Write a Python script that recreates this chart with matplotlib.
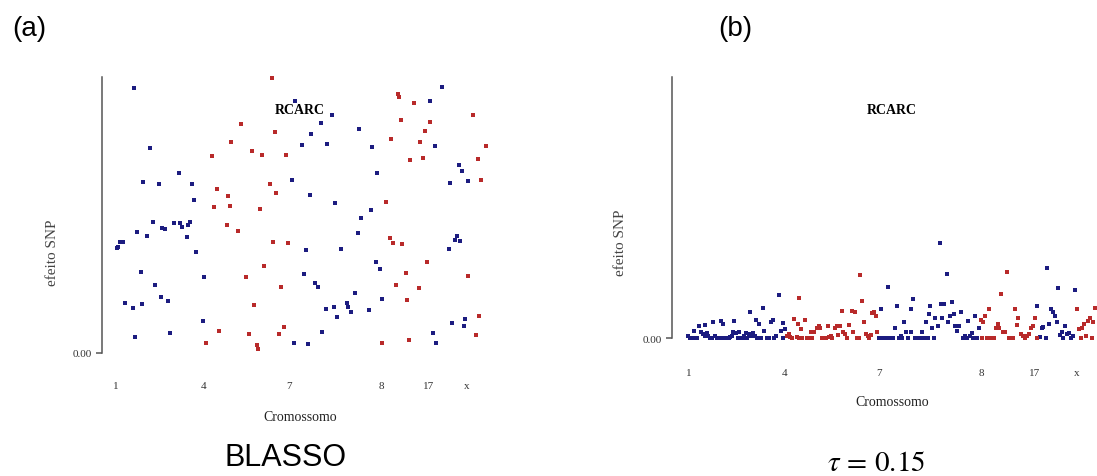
import matplotlib
matplotlib.use("Agg")
from matplotlib import pyplot as plt

# ---- painel (a) BLASSO: posicao (unidades arbitrarias) e efeito SNP ----
a_blue_pos = [402, 1327, 885, 1289, 996, 962, 934, 1077, 450, 906, 982, 1116, 1305,
              1376, 1385, 536, 1131, 430, 478, 576, 877, 1351, 1404, 930, 583, 1006,
              1112, 460, 521, 541, 569, 564, 487, 496, 546, 1084, 411, 441, 561, 1073,
              1370, 1366, 1379, 360, 368, 353, 351, 919, 1024, 1347, 589, 1127, 1140,
              422, 613, 911, 945, 954, 465, 484, 503, 1064, 1146, 374, 399, 427, 977,
              1003, 1041, 1045, 1054, 1106, 1012, 1394, 1391, 1355, 608, 967, 509, 406,
              1299, 882, 925, 1308]
a_blue_eff = [0.794, 0.797, 0.755, 0.755, 0.712, 0.689, 0.655, 0.672, 0.615, 0.623,
              0.626, 0.617, 0.619, 0.562, 0.544, 0.538, 0.538, 0.513, 0.506, 0.507,
              0.517, 0.510, 0.514, 0.474, 0.458, 0.449, 0.429, 0.394, 0.391, 0.391,
              0.394, 0.385, 0.376, 0.372, 0.379, 0.406, 0.364, 0.352, 0.349, 0.360,
              0.352, 0.340, 0.336, 0.334, 0.333, 0.319, 0.316, 0.309, 0.311, 0.312,
              0.303, 0.274, 0.251, 0.243, 0.228, 0.236, 0.211, 0.199, 0.203, 0.168,
              0.156, 0.179, 0.163, 0.149, 0.134, 0.147, 0.133, 0.139, 0.150, 0.137,
              0.124, 0.130, 0.107, 0.102, 0.080, 0.091, 0.096, 0.063, 0.059, 0.047,
              0.059, 0.029, 0.026, 0.029]
a_red_pos = [815, 1195, 1198, 1242, 1418, 724, 1202, 1289, 824, 1274, 1173, 694, 1260,
             1458, 637, 757, 786, 857, 1231, 1269, 1434, 810, 1442, 651, 828, 685,
             1159, 643, 690, 781, 681, 714, 1170, 1180, 1207, 820, 863, 1280, 792,
             1217, 738, 1404, 843, 1189, 1256, 1222, 761, 1437, 852, 656, 747, 838,
             1428, 619, 771, 775, 1146, 1226]
a_red_eff = [0.824, 0.777, 0.767, 0.749, 0.712, 0.685, 0.699, 0.691, 0.661, 0.664,
             0.642, 0.632, 0.632, 0.621, 0.591, 0.605, 0.592, 0.594, 0.579, 0.585,
             0.581, 0.505, 0.518, 0.492, 0.479, 0.471, 0.452, 0.437, 0.441, 0.432,
             0.385, 0.367, 0.345, 0.331, 0.327, 0.333, 0.331, 0.273, 0.261, 0.241,
             0.228, 0.231, 0.198, 0.204, 0.196, 0.159, 0.143, 0.110, 0.078, 0.066,
             0.056, 0.057, 0.055, 0.030, 0.025, 0.011, 0.029, 0.040]
a_tick_pos = [348, 612, 866, 1145, 1287, 1401]

# ---- painel (b) tau = 0.15 ----
b_blue_pos = [295, 300, 305, 312, 318, 322, 328, 333, 338, 344, 346, 352, 355, 360, 366,
              370, 374, 380, 386, 392, 396, 400, 404, 410, 416, 420, 425, 428, 433, 438,
              443, 447, 452, 458, 463, 467, 472, 476, 480, 484, 490, 494, 497, 500, 507,
              512, 518, 523, 530, 538, 542, 548, 552, 558, 567, 572, 578, 580, 584,
              866, 872, 876, 882, 888, 894, 898, 904, 910, 916, 920, 926, 932, 936, 942,
              948, 955, 962, 964, 968, 975, 982, 990, 996, 1003, 1007, 1013, 1017, 1021,
              1027, 1033, 1036, 1044, 1050, 1052, 1057, 1062, 1070, 1074, 1080, 1086,
              1092, 1095, 1102, 1106, 1112, 1118, 1124, 1130, 1134, 1140, 1146, 1150,
              1156, 1162, 1166,
              1342, 1350, 1355, 1360, 1368, 1372, 1378, 1383, 1390, 1395, 1400, 1404,
              1410, 1415, 1420, 1426, 1432, 1438, 1442, 1448, 1456]
b_blue_eff = [0.008, 0, 0, 0.023, 0, 0, 0.038, 0.018, 0.012, 0.040, 0.008, 0.016, 0.006,
              0, 0, 0.048, 0.006, 0, 0, 0.053, 0, 0.043, 0, 0, 0, 0.003, 0.008, 0.020,
              0.051, 0.016, 0, 0.018, 0, 0, 0.008, 0.016, 0, 0.013, 0.078, 0.006, 0.016,
              0.006, 0.054, 0, 0.043, 0, 0.092, 0.023, 0, 0, 0.048, 0.055, 0, 0.006,
              0.129, 0.023, 0, 0.045, 0.028,
              0, 0.088, 0, 0, 0, 0.153, 0, 0, 0, 0.030, 0.098, 0, 0.006, 0, 0.050,
              0.020, 0, 0.018, 0.088, 0.118, 0, 0, 0, 0.018, 0, 0.048, 0.002, 0.072,
              0.098, 0.030, 0, 0.062, 0.038, 0.285, 0.102, 0.062, 0.104, 0.192, 0.048,
              0.068, 0.109, 0.072, 0.038, 0.023, 0.038, 0.078, 0, 0.008, 0, 0.053,
              0.008, 0.015, 0, 0.068, 0, 0.030,
              0.098, 0.003, 0.030, 0.034, 0, 0.211, 0.043, 0.088, 0.078, 0.068, 0.050,
              0.152, 0.010, 0.018, 0, 0.036, 0.013, 0.016, 0, 0.008, 0.146]
b_red_pos = [590, 596, 600, 606, 612, 620, 625, 628, 628, 632, 637, 645, 652, 657, 662,
             667, 672, 680, 686, 690, 697, 702, 708, 714, 718, 722, 727, 734, 740, 745,
             750, 756, 760, 766, 772, 778, 785, 790, 795, 800, 806, 810, 816, 822, 828,
             833, 838, 842, 846, 852, 858, 862,
             1172, 1176, 1180, 1186, 1190, 1196, 1200, 1206, 1212, 1218, 1224, 1228,
             1234, 1240, 1245, 1250, 1258, 1264, 1270, 1276, 1280, 1285, 1292, 1298,
             1304, 1310, 1316, 1322, 1328, 1335, 1340,
             1462, 1466, 1472, 1476, 1482, 1488, 1494, 1500, 1506, 1510, 1516]
b_red_eff = [0.008, 0.012, 0.003, 0, 0.058, 0.003, 0.042, 0.120, 0, 0.028, 0, 0.056, 0,
             0, 0.020, 0, 0.020, 0.032, 0.038, 0.032, 0, 0, 0, 0.038, 0.003, 0.008, 0,
             0.032, 0.036, 0.010, 0.038, 0.081, 0.018, 0.012, 0, 0.041, 0.083, 0.018,
             0.078, 0, 0, 0.191, 0.113, 0.048, 0.013, 0.008, 0, 0.010, 0.076, 0.078,
             0.068, 0.018,
             0.055, 0, 0.048, 0.068, 0, 0.088, 0, 0, 0, 0.030, 0.043, 0.030, 0.133,
             0.018, 0.020, 0.198, 0, 0, 0, 0.088, 0.040, 0.062, 0.013, 0.008, 0, 0.008,
             0.013, 0.030, 0.038, 0.062, 0,
             0.088, 0.028, 0, 0.032, 0.043, 0.008, 0.052, 0.062, 0, 0.048, 0.092]
b_tick_pos = [295, 585, 868, 1175, 1333, 1460]

chrom_labels = ['1', '4', '7', '8', '17', 'x']

BLUE = '#1c1c80'
RED = '#b82a2a'
W, H = 1097, 477
serif = 'Liberation Serif'
plt.rcParams['mathtext.fontset'] = 'stix'

fig = plt.figure(figsize=(W / 100, H / 100), dpi=100)


def px(x, y):
    return x / W, 1 - y / H


def panel(left, right, top, bottom, xlim, ymax, bpos, beff, rpos, reff, ticks, pad):
    ax = fig.add_axes([left / W, 1 - bottom / H, (right - left) / W, (bottom - top) / H])
    ax.scatter(bpos, beff, s=8, marker='s', color=BLUE, linewidths=0, clip_on=False)
    ax.scatter(rpos, reff, s=8, marker='s', color=RED, linewidths=0, clip_on=False)
    ax.set_xlim(*xlim)
    ax.set_ylim(0, ymax)
    for s in ['top', 'right', 'bottom']:
        ax.spines[s].set_visible(False)
    ax.spines['left'].set_color('#555555')
    ax.spines['left'].set_linewidth(1.1)
    ax.set_yticks([0])
    ax.set_yticklabels(['0.00'], fontfamily=serif, fontsize=8, color='#333333')
    ax.tick_params(axis='y', length=4, width=1.1, color='#555555', pad=3)
    ax.set_xticks(ticks)
    ax.set_xticklabels(chrom_labels, fontfamily=serif, fontsize=8, color='#333333')
    ax.tick_params(axis='x', length=0, pad=pad)
    ax.patch.set_alpha(0)
    return ax


panel(101.5, 500, 78, 354, (304.5, 1500), 0.827,
      a_blue_pos, a_blue_eff, a_red_pos, a_red_eff, a_tick_pos, 20.5)
panel(671.7, 1097, 78, 339.3, (245, 1521), 0.783,
      b_blue_pos, b_blue_eff, b_red_pos, b_red_eff, b_tick_pos, 21.5)

# textos painel (a)
fig.text(*px(300, 111), 'RCARC', fontfamily=serif, fontweight='bold', fontsize=10,
         ha='center', va='center')
fig.text(*px(300, 418), 'Cromossomo', fontfamily=serif, fontsize=10, color='#222222',
         ha='center', va='center')
fig.text(*px(53, 253), 'efeito SNP', fontfamily=serif, fontsize=11, color='#444444',
         rotation=90, ha='center', va='center')
fig.text(*px(286, 458), 'BLASSO', fontfamily='Liberation Sans', fontsize=22,
         ha='center', va='center')
fig.text(*px(29, 29), '(a)', fontfamily='Liberation Sans', fontsize=20,
         ha='center', va='center')

# textos painel (b)
fig.text(*px(892, 111), 'RCARC', fontfamily=serif, fontweight='bold', fontsize=10,
         ha='center', va='center')
fig.text(*px(892, 402), 'Cromossomo', fontfamily=serif, fontsize=10, color='#222222',
         ha='center', va='center')
fig.text(*px(620, 243), 'efeito SNP', fontfamily=serif, fontsize=11, color='#444444',
         rotation=90, ha='center', va='center')
fig.text(*px(876, 463), r'$\tau\,=\,0.15$', fontsize=21, ha='center', va='center')
fig.text(*px(735, 29), '(b)', fontfamily='Liberation Sans', fontsize=20,
         ha='center', va='center')

fig.savefig('out.png', dpi=100)
